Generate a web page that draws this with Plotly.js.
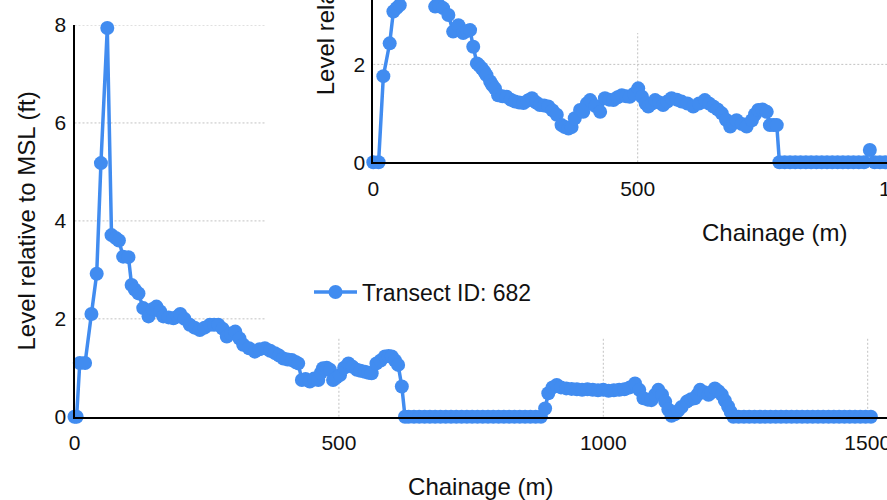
<!DOCTYPE html>
<html><head><meta charset="utf-8">
<script src="https://cdn.plot.ly/plotly-3.0.1.min.js"></script>
<style>html,body{margin:0;padding:0;background:#fff;}#chart{width:887px;height:500px;}</style>
</head><body><div id="chart"></div>
<script>
// ---- data ----
const mainChainage = [0,4,10,20,32,42,50,62,70,78,84,92,102,108,114,121,130,140,148,155,162,168,178,187,195,200,208,218,227,237,246,256,264,272,280,288,296,304,312,319,330,341,350,360,370,379,387,395,403,411,418,423,430,437,445,453,461,466,470,477,483,489,495,502,510,518,526,534,541,549,556,562,571,579,587,594,600,606,612,619,625,
632,642,652,662,672,682,692,702,712,722,732,742,752,762,772,782,792,802,812,822,832,842,852,862,872,882,
890,896,904,912,920,930,940,950,960,970,980,990,1000,1010,1020,1030,1040,1050,1060,1068,1076,1084,1091,1098,1104,1111,1117,1123,1129,1135,1141,1148,1158,1166,1173,1178,1183,1191,1199,1205,1211,1218,1224,1230,1236,1241,1246,
1256,1266,1276,1286,1296,1306,1316,1326,1336,1346,1356,1366,1376,1386,1396,1406,1416,1426,1436,1446,1456,1466,1476,1486,1496,1506];
const mainLevel = [0,0,1.1,1.1,2.1,2.92,5.18,7.94,3.71,3.65,3.6,3.27,3.26,2.69,2.6,2.52,2.22,2.05,2.2,2.25,2.15,2.05,2.03,2.01,2.05,2.1,2.0,1.88,1.82,1.77,1.82,1.88,1.88,1.88,1.8,1.64,1.7,1.74,1.6,1.47,1.4,1.33,1.38,1.4,1.35,1.3,1.25,1.19,1.17,1.16,1.12,1.09,0.75,0.77,0.72,0.78,0.75,0.9,0.99,1.0,0.96,0.75,0.8,0.85,1.0,1.09,1.02,0.96,0.94,0.92,0.9,0.89,1.09,1.15,1.23,1.24,1.23,1.15,1.06,0.62,0,
0,0,0,0,0,0,0,0,0,0,0,0,0,0,0,0,0,0,0,0,0,0,0,0,0,0,
0.17,0.48,0.6,0.65,0.6,0.58,0.57,0.56,0.55,0.56,0.55,0.54,0.55,0.53,0.54,0.55,0.56,0.6,0.68,0.55,0.38,0.35,0.34,0.45,0.55,0.45,0.31,0.15,0.02,0.05,0.12,0.2,0.31,0.36,0.38,0.45,0.55,0.5,0.45,0.5,0.58,0.52,0.45,0.33,0.21,0.1,0,
0,0,0,0,0,0,0,0,0,0,0,0,0,0,0,0,0,0,0,0,0,0,0,0,0,0];

const insetChainage = [0,10,19,31,38,44,50,58,68,80,92,104,117,125,132,142,151,156,161,170,177,183,189,196,200,205,210,214,221,225,230,236,244,252,260,268,276,284,292,300,308,315,323,331,339,347,356,362,369,375,381,391,397,404,410,420,429,438,446,454,462,470,478,485,493,501,508,515,520,527,533,541,548,556,564,574,583,594,605,616,627,635,643,651,659,667,675,681,687,697,706,716,722,728,736,744,750,757,763,768,
778,788,798,808,818,828,838,848,858,868,878,888,898,908,918,928,939,948,958,968,978,988,998];
const insetLevel = [0,0,1.76,2.43,3.08,3.15,3.21,3.7,4.3,4.6,4.2,3.7,3.18,3.2,3.15,3.01,2.67,2.7,2.8,2.64,2.68,2.7,2.36,2.02,1.98,1.92,1.85,1.78,1.65,1.58,1.51,1.37,1.35,1.34,1.28,1.24,1.22,1.21,1.26,1.31,1.22,1.17,1.16,1.14,1.06,0.97,0.76,0.72,0.69,0.72,0.9,1.07,1.03,1.2,1.27,1.15,1.03,1.31,1.28,1.27,1.33,1.37,1.35,1.34,1.4,1.51,1.34,1.2,1.14,1.2,1.27,1.22,1.17,1.24,1.31,1.28,1.24,1.2,1.14,1.2,1.27,1.2,1.14,1.08,1.0,0.87,0.73,0.8,0.86,0.78,0.73,0.86,0.98,1.07,1.08,1.03,0.76,0.76,0.76,0,
0,0,0,0,0,0,0,0,0,0,0,0,0,0,0,0,0.25,0,0,0,0,0,0];

const xTickStep = 500;
const yTickStep = 2;
const mainXGrid = [500,1000,1500];
const mainYGrid = [2,4,6,8];
const insetXGrid = [500];
const insetYGrid = [2];
const xTitle = 'Chainage (m)';
const yTitle = 'Level relative to MSL (ft)';
const legendName = 'Transect ID: 682';

// ---- styling / geometry ----
const W = 887, H = 500;
const FONT = '"Liberation Sans", Arial, sans-serif';
const BLUE = '#418CF0';
const GRID = '#c2c2c2';
const pxPerM = 0.5288, pxPerFt = 48.96;
const mainX0 = 74.5, mainY0 = 416.8, mainTop = 25;
const dx = 298.8, dy = -254.5;          // inset offset
const insetX0 = mainX0 + dx, insetY0 = mainY0 + dy;

const mainXMax = (W - mainX0) / pxPerM;
const insetXMax = (W - insetX0) / pxPerM;
const insetYMax = insetY0 / pxPerFt;

function axisCommon(extra) {
  return Object.assign({
    showgrid: false, zeroline: false, showline: true, linecolor: '#000', linewidth: 2,
    tickfont: {family: FONT, size: 21, color: '#111'}, fixedrange: true, ticklabeloverflow: 'allow'
  }, extra);
}

const traceStyle = {
  mode: 'lines+markers', line: {color: BLUE, width: 3.5},
  marker: {color: BLUE, size: 14}, cliponaxis: false, hoverinfo: 'skip'
};

const data = [
  Object.assign({x: mainChainage, y: mainLevel, xaxis: 'x', yaxis: 'y', name: 'main', showlegend: false}, traceStyle),
  Object.assign({x: insetChainage, y: insetLevel, xaxis: 'x2', yaxis: 'y2', name: legendName, showlegend: true}, traceStyle)
];

const shapes = [];
const gl = {color: GRID, width: 1, dash: '2px,2px'};
mainYGrid.forEach(v => shapes.push({type: 'line', xref: 'x', yref: 'y', x0: 0, x1: 360, y0: v, y1: v, line: gl, layer: 'below'}));
mainXGrid.forEach(v => shapes.push({type: 'line', xref: 'x', yref: 'y', x0: v, x1: v, y0: 0, y1: 1.61, line: gl, layer: 'below'}));
insetYGrid.forEach(v => shapes.push({type: 'line', xref: 'x2', yref: 'y2', x0: 0, x1: insetXMax, y0: v, y1: v, line: gl, layer: 'below'}));
insetXGrid.forEach(v => shapes.push({type: 'line', xref: 'x2', yref: 'y2', x0: v, x1: v, y0: 0, y1: 2.64, line: gl, layer: 'below'}));

const titleFont = {family: FONT, size: 24, color: '#111'};
const mainPlotCenterX = mainX0 + (876.3 - mainX0) / 2;
const annotations = [
  {text: xTitle, xref: 'paper', yref: 'paper', x: (mainPlotCenterX + dx) / W, y: 1 - (487 + dy) / H,
   xanchor: 'center', yanchor: 'middle', showarrow: false, font: titleFont},
  {text: yTitle, xref: 'paper', yref: 'paper', x: (27 + dx) / W, y: 1 - (220 + dy) / H,
   xanchor: 'center', yanchor: 'middle', textangle: -90, showarrow: false, font: titleFont},
  {text: '1000', xref: 'paper', yref: 'paper', x: (insetX0 + 1000 * pxPerM) / W, y: 1 - (442.5 + dy) / H,
   xanchor: 'center', yanchor: 'middle', showarrow: false, font: {family: FONT, size: 21, color: '#111'}}
];

const layout = {
  width: W, height: H, margin: {l: 0, r: 0, t: 0, b: 0},
  paper_bgcolor: '#fff', plot_bgcolor: '#fff',
  xaxis: axisCommon({domain: [mainX0 / W, 1], range: [0, mainXMax], dtick: xTickStep, anchor: 'y',
    ticks: 'outside', ticklen: 6, tickcolor: 'rgba(0,0,0,0)',
    title: {text: xTitle, font: titleFont, standoff: 25}}),
  yaxis: axisCommon({domain: [1 - mainY0 / H, 1 - mainTop / H], range: [0, 8], dtick: yTickStep, anchor: 'x',
    ticks: 'outside', ticklen: 2, tickcolor: 'rgba(0,0,0,0)',
    title: {text: yTitle, font: titleFont, standoff: 12}}),
  xaxis2: axisCommon({domain: [insetX0 / W, 1], range: [0, insetXMax], dtick: xTickStep, anchor: 'y2',
    ticks: 'outside', ticklen: 6, tickcolor: 'rgba(0,0,0,0)'}),
  yaxis2: axisCommon({domain: [1 - insetY0 / H, 1], range: [0, insetYMax], dtick: yTickStep, anchor: 'x2',
    ticks: 'outside', ticklen: 2, tickcolor: 'rgba(0,0,0,0)'}),
  showlegend: true,
  legend: {x: 309 / W, xanchor: 'left', y: 1 - 292 / H, yanchor: 'middle', bgcolor: 'rgba(0,0,0,0)',
    font: {family: FONT, size: 23, color: '#111'}, itemwidth: 43},
  shapes: shapes, annotations: annotations, hovermode: false
};

Plotly.newPlot('chart', data, layout, {displayModeBar: false, staticPlot: true});
</script></body></html>
